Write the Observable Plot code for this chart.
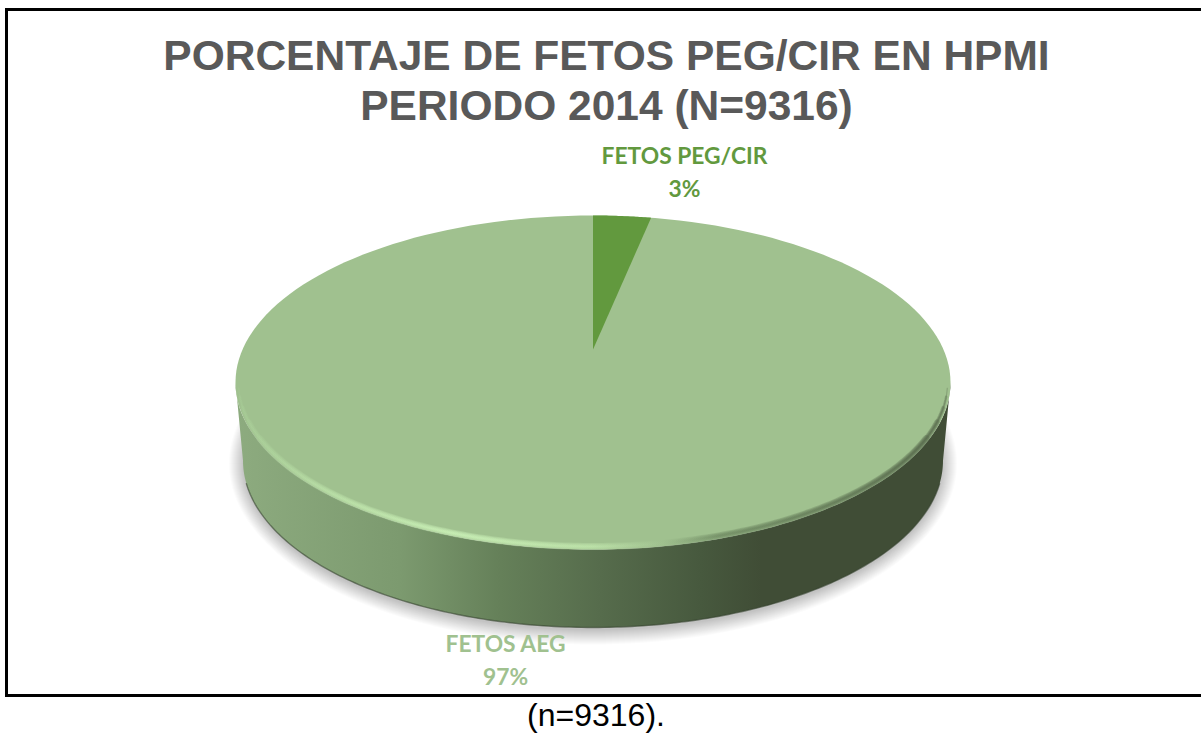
<!DOCTYPE html>
<html lang="es">
<head>
<meta charset="utf-8">
<script src="https://cdn.jsdelivr.net/npm/d3@7"></script>
<script src="https://cdn.jsdelivr.net/npm/@observablehq/plot@0.6"></script>
<style>
  html, body { margin: 0; padding: 0; background: #fff; overflow: hidden; }
  #frame { position: absolute; left: 5px; top: 8px; width: 1196px; height: 689px; box-sizing: border-box;
           border: 3px solid #000; border-right: none; }
  #title { margin: 0; height: 129px; box-sizing: border-box; padding-top: 20px; padding-left: 4px;
           font: bold 42.5px/50px "Liberation Sans", Arial, sans-serif; color: #595959; text-align: center; white-space: pre-line; }
  #chart svg { display: block; overflow: visible; }
  #caption { position: absolute; left: 0; width: 1192px; top: 697px; text-align: center;
             font: 32px/37px "Liberation Sans", Arial, sans-serif; color: #000; }
</style>
</head>
<body>
<div id="frame">
  <h1 id="title"></h1>
  <div id="chart"></div>
</div>
<div id="caption"></div>
<script>
const titleLines = ["PORCENTAJE DE FETOS PEG/CIR EN HPMI", "PERIODO 2014 (N=9316)"];
const captionText = "(n=9316).";
const categories = ["FETOS PEG/CIR", "FETOS AEG"];
const shares = [2.6, 97.4];
const sliceColors = ["#62993e", "#a0c18f"];

document.getElementById("title").textContent = titleLines.join("\n");
document.getElementById("caption").textContent = captionText;

// layout of the tilted disc, in page pixels
const top_ = {cx: 592.5, cy: 382, rx: 357.5, ry: 167};
const base = {cx: 592.5, cy: 460, rx: 350, ry: 167};
const apex = {x: 592.5, y: 349};

const rad = d => d * Math.PI / 180;
const arc = (e, from, to, n = 180) => d3.range(n + 1).map(i => {
  const t = rad(from + (to - from) * i / n);
  return {x: e.cx + e.rx * Math.sin(t), y: e.cy - e.ry * Math.cos(t)};
});
const inset = (e, d) => ({...e, rx: e.rx - d, ry: e.ry - d});

const sliceEnd = 360 * shares[0] / d3.sum(shares);
const wedge = [apex, ...arc(top_, 0, sliceEnd, 30)];
const wall = [...arc(top_, 90, 270), ...arc(base, 270, 90)];

const defs = () => {
  const d = d3.create("svg:defs");
  const grad = (id, stops) => {
    const g = d.append("linearGradient").attr("id", id).attr("x1", 0).attr("x2", 1).attr("y1", 0).attr("y2", 0);
    stops.forEach(([o, c]) => g.append("stop").attr("offset", o).attr("stop-color", c));
  };
  grad("wallGrad", [[0, "#8dab7f"], [0.23, "#7c9a6f"], [0.37, "#658059"], [0.51, "#566c4c"], [0.65, "#47593e"], [0.735, "#404d36"], [1, "#404d36"]]);
  grad("rimGrad", [[0, "#a8cd97"], [0.12, "#bce2a9"], [0.3, "#cdf4ba"], [0.5, "#c0e6ac"], [0.6, "#a0c18f"], [0.68, "#6f8a62"], [1, "#4d5d43"]]);
  return d.node();
};

// soft edges: stacked translucent shapes
const softShadow = d3.range(14, -1, -1).map(d =>
  Plot.line(arc({cx: base.cx, cy: base.cy + 3, rx: base.rx + d, ry: base.ry + d}, 0, 360), {
    x: "x", y: "y", stroke: "none", fill: "#000", fillOpacity: 0.017
  }));
const softRim = [[7, 250], [5.5, 256], [4, 261], [2.5, 265], [1.2, 268]].map(([w, a]) =>
  Plot.line(arc(inset(top_, 3), a, 360 - a), {x: "x", y: "y", stroke: "url(#rimGrad)", strokeWidth: w, strokeOpacity: 0.3}));

const labelStyle = {fontFamily: "Lato, 'Open Sans', sans-serif", fontWeight: "bold", fontSize: 22.8, lineHeight: 1.45};

const chart = Plot.plot({
  width: 1193, height: 554,
  marginTop: 0, marginRight: 0, marginBottom: 0, marginLeft: 0,
  x: {domain: [8, 1201], range: [0, 1193], axis: null},
  y: {domain: [140, 694], range: [0, 554], axis: null},
  style: {background: "transparent"},
  marks: [
    defs,
    ...softShadow,
    Plot.line(wall, {x: "x", y: "y", stroke: "none", fill: "url(#wallGrad)"}),
    Plot.line(arc(base, 262, 98), {x: "x", y: "y", stroke: "#36432e", strokeWidth: 1.4, strokeOpacity: 0.6}),
    Plot.line(arc(top_, 0, 360), {x: "x", y: "y", stroke: "none", fill: sliceColors[1]}),
    ...softRim,
    Plot.line(wedge, {x: "x", y: "y", stroke: "none", fill: sliceColors[0]}),
    Plot.text([0], {
      x: 684, y: 169.5, text: () => `${categories[0]}\n${Math.round(shares[0])}%`,
      fill: sliceColors[0], ...labelStyle
    }),
    Plot.text([0], {
      x: 505, y: 657.5, text: () => `${categories[1]}\n${Math.round(shares[1])}%`,
      fill: sliceColors[1], ...labelStyle
    })
  ]
});
document.getElementById("chart").append(chart);
</script>
</body>
</html>
